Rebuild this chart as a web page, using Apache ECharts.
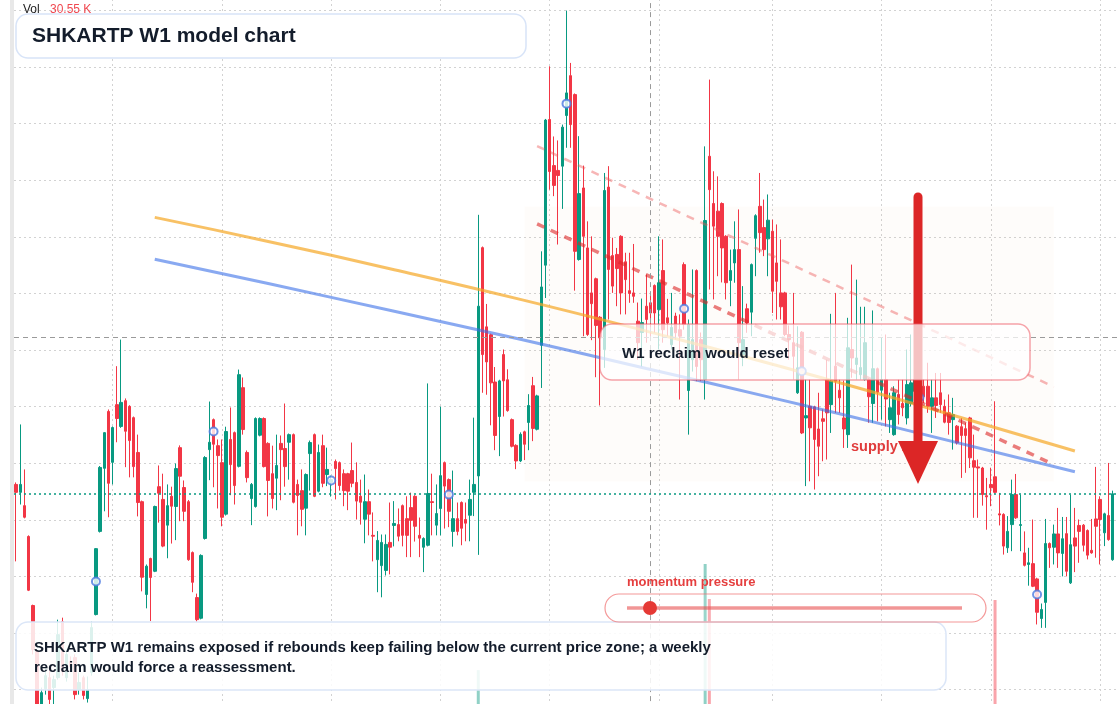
<!DOCTYPE html>
<html lang="en">
<head>
<meta charset="UTF-8">
<title>SHKARTP W1 model chart</title>
<script src="https://cdn.jsdelivr.net/npm/echarts@6/dist/echarts.min.js"></script>
<style>
  html, body { margin: 0; padding: 0; background: #fff; }
  #chart { width: 1120px; height: 704px; }
</style>
</head>
<body>
<div id="chart"></div>
<script>
// weekly candles: [open, close, low, high]
const candles = [
  [29.25,28.97,26.53,29.32],[28.97,29.25,28.54,31.37],[28.50,28.09,28.05,29.78],[27.41,25.51,25.48,27.45],[24.97,23.41,23.24,25.00],
  [23.34,21.12,20.76,23.41],[20.94,21.89,20.59,22.07],[22.03,22.49,21.82,22.78],[22.42,21.65,21.47,22.71],[22.07,22.35,21.47,22.49],
  [22.42,23.94,22.35,24.47],[24.40,22.63,22.49,24.54],[22.42,23.24,22.28,23.41],[23.00,22.82,22.63,23.17],[23.13,21.82,21.65,23.24],
  [22.00,22.25,21.82,22.60],[22.42,21.79,21.65,22.49],[21.68,22.00,21.54,22.46],[22.60,24.19,22.49,24.40],[24.65,26.98,24.62,27.00],
  [27.59,29.85,27.55,29.90],[29.82,31.08,28.30,31.10],[31.83,29.29,28.09,31.90],[30.03,31.26,29.25,31.30],[32.07,31.58,30.74,33.43],
  [31.30,32.15,31.25,34.37],[32.21,31.13,29.86,32.29],[32.01,30.80,29.50,32.05],[31.61,29.88,29.50,31.65],[30.38,28.61,28.12,31.01],
  [28.64,25.97,25.47,28.68],[25.36,26.36,24.87,26.42],[26.63,25.96,24.42,26.66],[26.18,28.47,26.15,28.50],[29.17,28.94,27.90,29.92],
  [28.72,27.07,27.03,29.63],[27.81,28.50,26.64,29.25],[28.83,28.48,27.16,29.17],[28.47,29.81,27.28,29.99],[30.55,29.54,27.95,30.63],
  [29.14,28.30,27.95,29.39],[28.64,26.59,26.55,28.70],[26.84,25.79,25.44,26.88],[25.25,24.47,24.40,25.39],[24.52,26.74,24.48,26.78],
  [27.34,30.20,27.30,30.25],[30.48,30.74,29.40,32.18],[31.54,30.67,29.15,31.58],[30.62,30.27,28.40,30.84],[30.02,28.09,27.77,30.84],
  [28.20,31.12,28.15,31.29],[30.84,29.95,28.87,31.97],[31.08,29.21,28.54,31.12],[29.89,33.13,29.85,33.31],[32.67,31.19,31.01,33.03],
  [30.38,29.49,29.32,30.45],[28.75,29.25,27.81,29.30],[28.47,31.58,28.43,31.62],[30.99,31.58,30.95,31.62],[31.58,29.88,29.85,31.62],
  [30.70,29.39,28.12,30.74],[29.63,28.75,28.40,30.62],[29.47,29.92,28.34,31.01],[30.70,30.48,28.69,30.98],[30.52,29.88,29.17,32.11],
  [30.74,31.01,29.42,31.05],[31.01,28.62,28.58,31.05],[29.25,28.86,27.45,29.42],[29.03,28.37,27.77,29.78],[28.41,29.60,27.45,29.64],
  [30.34,30.73,29.03,30.80],[31.01,28.83,28.80,31.05],[29.01,30.38,28.97,30.66],[30.62,29.29,29.15,31.01],[29.60,29.78,29.19,30.55],
  [29.32,29.42,28.82,29.56],[30.06,29.81,28.72,30.13],[30.02,29.21,29.03,30.06],[29.63,29.03,28.48,29.78],[29.63,29.01,28.34,29.66],
  [29.74,29.29,29.15,30.73],[29.32,28.66,28.01,30.03],[28.83,28.62,27.83,29.42],[28.02,28.64,27.17,29.60],[28.64,28.20,27.45,29.07],
  [27.45,27.42,26.53,28.26],[26.59,27.27,25.44,27.60],[26.38,27.20,25.26,27.48],[26.21,27.13,26.03,27.48],[27.20,27.03,26.07,28.61],
  [27.80,27.87,27.06,28.66],[27.83,27.42,27.24,28.40],[28.50,27.45,27.06,28.54],[28.04,27.45,26.68,28.83],[28.43,27.98,26.68,28.96],
  [28.83,27.77,27.23,28.87],[27.45,27.35,26.68,28.08],[27.03,27.34,26.15,27.38],[27.10,28.93,27.06,32.82],[28.64,28.61,27.45,29.63],
  [27.81,28.22,27.45,29.25],[28.40,29.56,27.45,32.00],[30.02,29.19,27.69,30.06],[29.42,28.30,27.74,29.46],[27.59,28.04,27.05,29.74],
  [28.04,27.59,27.45,28.61],[28.61,27.70,27.10,28.65],[28.01,27.88,27.24,28.61],[28.16,28.72,27.24,29.42],[28.97,29.25,28.13,31.61],
  [29.55,35.55,26.76,38.78],[37.62,33.84,32.49,37.66],[34.82,33.58,32.42,35.63],[34.54,32.84,31.34,34.58],[32.87,30.98,30.46,33.40],
  [31.65,32.91,30.25,32.95],[33.84,32.91,31.65,34.02],[32.95,31.86,31.82,33.32],[31.54,30.60,30.56,31.58],[30.63,30.08,29.79,30.67],
  [30.08,31.02,30.04,31.09],[31.11,30.67,30.11,31.15],[31.44,32.04,30.46,32.44],[32.74,31.23,30.78,33.05],[31.20,32.38,31.16,32.42],
  [34.17,36.23,32.66,37.49],[37.00,42.13,35.84,42.17],[42.15,40.31,39.67,44.03],[40.52,39.82,39.44,41.55],[40.35,40.17,37.73,41.41],
  [40.50,41.88,38.99,41.97],[42.29,43.09,41.15,46.00],[43.70,41.97,41.15,44.15],[43.03,37.49,36.10,43.07],[37.20,39.53,37.16,41.56],
  [39.73,38.02,34.49,40.52],[37.61,34.55,34.50,38.55],[36.02,35.64,34.35,38.02],[36.52,34.87,33.04,36.56],[35.16,34.43,32.04,35.20],
  [34.02,39.64,33.37,40.26],[39.76,36.85,35.08,40.50],[37.34,36.26,36.02,37.97],[37.38,36.88,35.55,37.61],[38.02,36.02,35.26,38.06],
  [37.12,36.49,35.26,37.44],[36.10,36.00,35.67,37.44],[36.02,35.90,35.67,37.75],[35.02,34.26,33.66,35.68],[34.62,34.97,33.42,35.82],
  [35.55,35.08,34.26,36.67],[35.67,35.31,34.37,35.96],[36.28,35.31,34.61,36.32],[35.43,36.38,34.02,38.02],[36.81,34.72,34.26,37.91],
  [35.14,34.96,34.49,35.81],[34.19,34.80,34.02,36.02],[35.20,34.61,34.37,35.32],[34.72,34.49,32.25,35.26],[37.02,34.90,34.72,37.10],
  [32.57,34.90,31.01,35.08],[33.66,34.37,33.24,36.85],[36.81,33.42,32.90,36.85],[34.37,33.66,32.90,34.62],[32.96,38.58,32.25,41.20],
  [40.85,39.67,36.14,43.56],[39.18,38.38,35.79,40.32],[38.91,38.02,36.61,40.14],[39.18,37.61,36.39,39.22],[38.02,36.38,35.79,38.06],
  [36.46,36.81,35.55,37.55],[37.08,37.55,36.38,38.55],[37.55,34.26,32.96,38.97],[33.78,34.37,33.43,36.26],[35.46,34.96,34.61,35.64],
  [35.34,37.02,34.49,37.06],[37.95,38.75,36.61,38.80],[39.08,38.15,37.44,40.26],[38.33,37.55,37.32,39.32],[37.93,38.59,36.61,39.50],
  [38.20,36.08,35.31,38.61],[37.08,36.43,35.08,38.44],[36.02,35.53,35.08,37.91],[36.02,34.55,34.49,36.06],[34.55,34.37,33.66,34.87],
  [34.26,33.78,32.96,36.02],[32.49,33.37,32.45,34.84],[34.63,31.07,31.03,34.67],[31.60,31.68,29.19,32.96],[32.01,31.25,29.36,32.96],
  [31.99,30.84,29.07,32.03],[31.21,30.60,29.54,32.49],[31.57,31.48,30.07,31.90],[32.96,31.78,30.13,33.66],[32.07,32.90,31.07,35.28],
  [33.43,32.90,31.78,36.02],[32.58,32.31,31.78,32.96],[31.60,31.21,30.54,32.92],[31.01,34.08,30.54,35.14],[34.02,33.72,33.02,37.02],
  [33.49,33.72,32.96,36.49],[33.13,33.38,32.96,35.53],[32.96,34.26,32.92,35.53],[32.96,32.35,31.43,33.00],[32.11,33.34,31.43,35.40],
  [33.34,32.51,31.48,33.38],[32.58,32.96,31.54,34.43],[32.96,32.27,31.30,34.55],[31.54,31.96,31.07,32.49],[31.01,32.49,30.97,32.72],
  [32.43,31.72,31.37,32.96],[32.11,31.96,31.66,32.96],[31.60,32.78,31.37,34.02],[32.11,32.84,32.01,34.55],[32.54,32.96,32.01,33.78],
  [32.60,31.90,31.60,33.00],[32.72,32.35,32.13,32.96],[32.72,32.01,31.78,33.55],[32.01,32.31,31.07,32.96],[32.31,32.04,31.60,33.19],
  [32.49,32.07,31.78,33.19],[32.01,31.45,31.41,32.25],[31.78,31.44,31.01,32.43],[31.54,31.72,30.48,32.31],[31.31,30.72,30.66,31.35],
  [31.29,30.98,29.48,31.60],[31.22,30.98,29.66,31.43],[31.60,30.19,29.83,31.64],[30.09,29.86,28.07,31.01],[29.87,29.83,28.07,30.13],
  [29.83,28.89,28.50,29.87],[28.85,28.81,27.65,29.48],[29.25,29.13,28.48,29.84],[29.52,28.97,28.93,32.19],[28.21,28.17,27.80,28.95],
  [28.19,27.07,26.77,28.23],[27.01,27.59,26.83,28.13],[27.83,28.89,26.89,29.42],[28.89,28.07,28.03,29.62],[27.80,27.83,26.89,28.89],
  [26.83,26.39,26.35,27.59],[26.42,26.48,25.67,27.01],[26.45,25.65,25.62,28.01],[25.91,24.73,24.30,25.95],[24.51,24.83,24.18,25.04],
  [25.08,27.16,24.18,28.03],[27.16,27.01,26.30,27.20],[27.03,27.50,26.42,27.83],[27.50,26.83,26.30,28.42],[26.81,27.33,26.00,28.10],
  [27.51,26.18,26.00,28.10],[25.77,27.12,25.73,28.89],[27.36,27.07,26.15,28.42],[27.80,27.59,26.48,28.01],[27.81,27.10,26.88,27.85],
  [27.62,26.75,26.60,27.66],[26.92,26.83,26.80,28.03],[28.03,27.77,26.66,29.87],[28.72,28.01,26.42,28.83],[27.54,28.21,27.07,28.25],
  [28.15,27.30,27.26,30.01],[26.59,28.92,26.55,29.03]
];

// weekly volume, thousands
const volumes = [
  22,18,15,31,35,40,28,14,19,12,24,26,17,11,27,13,16,12,29,38,
  36,25,33,21,24,30,19,22,26,29,41,20,23,34,18,25,17,15,22,21,
  18,27,24,19,30,37,16,21,14,25,31,22,20,35,23,17,13,33,15,24,
  20,16,14,12,19,11,26,15,17,18,13,22,16,18,10,12,14,15,13,12,
  16,14,11,19,15,13,17,16,15,12,10,11,14,12,13,15,9,12,28,11,
  13,21,16,18,15,12,14,10,16,19,63.3,44,29,31,27,22,20,18,19,16,
  17,13,19,24,18,34,47,42,25,21,23,38,33,45,29,31,35,20,26,22,
  43,36,24,18,26,19,13,15,21,16,18,14,20,23,27,12,14,15,17,29,
  25,22,31,18,98.7,87,34,27,30,32,17,19,36,21,15,28,22,24,16,20,
  30,21,17,24,13,20,19,37,26,22,25,18,12,23,24,21,14,19,33,27,
  18,15,22,17,26,19,14,18,12,21,16,11,20,17,15,19,14,18,13,15,
  16,14,12,11,17,13,12,22,25,14,23,18,15,86.7,16,27,19,24,21,13,
  22,15,29,35,18,41,14,17,22,19,26,33,15,12,18,21,13,24,23,16,25,30.55
];

// slow averages, [week index, price]
const maOrange = [[33,38.69],[60,37.84],[90,36.84],[120,35.79],[150,34.67],[180,33.50],[210,32.26],[252,30.43]];
const maBlue = [[33,37.21],[60,36.35],[90,35.37],[120,34.38],[150,33.35],[180,32.31],[210,31.24],[252,29.70]];

// descending channel
const upperTrend = [[124,41.21],[247,32.70]];
const lowerTrend = [[124,38.46],[247,29.95]];

// pivot markers
const pivotIdx = [19,47,75,103,131,159,187,215,243];
const pivotVal = [25.82,31.12,29.39,28.89,42.71,35.46,33.25,32.32,25.36];

// supply zone box
const zoneIdx = [121,247];
const zonePrice = [39.07,29.35];

const crossIndex = 151;
const crossPrice = 34.44;
const lastClose = candles[candles.length - 1][1];

// x split lines (half-year marks)
const splitIdx = [23,49,75,101,127,153,180,206,232,258];

const priceMin = 20, priceMax = 48, priceStep = 2;

// category labels: weekly dates (one spare week at the right edge)
const categories = [];
const t0 = Date.UTC(2021, 0, 4);
for (let i = 0; i < candles.length + 1; i++) {
  categories.push(new Date(t0 + i * 7 * 86400000).toISOString().slice(0, 10));
}

const GREEN = '#089981';
const RED = '#f23645';
const FONT = '"Liberation Sans", Arial, Helvetica, sans-serif';
const gridLine = { color: '#d2d2d2', type: [2, 3], width: 1 };

var myChart = echarts.init(document.getElementById('chart'));

var option = {
  animation: false,
  backgroundColor: '#ffffff',
  grid: [
    { left: 14, right: 1, top: -46, height: 792.1, outerBoundsMode: 'none' },
    { left: 14, right: 1, top: 560, height: 300, outerBoundsMode: 'none' }
  ],
  xAxis: [
    {
      type: 'category', data: categories, gridIndex: 0, boundaryGap: true,
      axisLine: { show: false }, axisTick: { show: false }, axisLabel: { show: false },
      splitLine: {
        show: true,
        alignWithLabel: true,
        interval: function (i) { return splitIdx.indexOf(i) >= 0; },
        lineStyle: gridLine
      }
    },
    {
      type: 'category', data: categories, gridIndex: 1, boundaryGap: true,
      axisLine: { show: false }, axisTick: { show: false }, axisLabel: { show: false },
      splitLine: { show: false }
    }
  ],
  yAxis: [
    {
      type: 'value', gridIndex: 0, min: priceMin, max: priceMax, interval: priceStep,
      axisLine: { show: false }, axisTick: { show: false }, axisLabel: { show: false },
      splitLine: { show: true, lineStyle: gridLine }
    },
    {
      type: 'value', gridIndex: 1, min: 0, max: 100,
      axisLine: { show: false }, axisTick: { show: false }, axisLabel: { show: false },
      splitLine: { show: false }
    }
  ],
  series: [
    {
      type: 'bar', xAxisIndex: 1, yAxisIndex: 1, silent: true, barWidth: 3,
      data: volumes.map(function (v, i) {
        var up = candles[i][1] >= candles[i][0];
        return { value: v, itemStyle: { color: up ? 'rgba(8,153,129,0.45)' : 'rgba(242,54,69,0.45)' } };
      }),
      z: 1
    },
    {
      type: 'candlestick', name: 'SHKARTP', data: candles, barWidth: 3, silent: true,
      itemStyle: { color: GREEN, color0: RED, borderColor: GREEN, borderColor0: RED, borderWidth: 1 },
      markArea: {
        silent: true,
        itemStyle: { color: 'rgba(240,170,110,0.035)' },
        data: [[
          { xAxis: categories[zoneIdx[0]], yAxis: zonePrice[0] },
          { xAxis: categories[zoneIdx[1]], yAxis: zonePrice[1] }
        ]]
      },
      markLine: {
        silent: true, symbol: ['none', 'none'], label: { show: false },
        data: [
          { xAxis: categories[crossIndex], lineStyle: { color: '#9a9a9a', type: [5, 4], width: 1 } },
          { yAxis: crossPrice, lineStyle: { color: '#9a9a9a', type: [5, 4], width: 1 } },
          { yAxis: lastClose, lineStyle: { color: GREEN, type: [2, 3], width: 1.5 } }
        ]
      },
      z: 2
    },
    {
      type: 'line', data: maOrange, smooth: true, showSymbol: false, silent: true,
      lineStyle: { color: '#f5a623', width: 3, opacity: 0.7 }, z: 3
    },
    {
      type: 'line', data: maBlue, smooth: true, showSymbol: false, silent: true,
      lineStyle: { color: '#3b6fe8', width: 3, opacity: 0.6 }, z: 3
    },
    {
      type: 'line', data: upperTrend, showSymbol: false, silent: true,
      lineStyle: { color: 'rgba(235,80,80,0.42)', width: 2.5, type: [8, 7] }, z: 4
    },
    {
      type: 'line', data: lowerTrend, showSymbol: false, silent: true,
      lineStyle: { color: 'rgba(220,38,38,0.6)', width: 3.5, type: [8, 7] }, z: 4
    },
    {
      type: 'scatter', silent: true, symbol: 'emptyCircle', symbolSize: 8,
      data: pivotIdx.map(function (i, k) { return [i, pivotVal[k]]; }),
      itemStyle: { color: '#4a78e0', borderWidth: 1.5 }, z: 5
    }
  ],
  graphic: [
    { type: 'rect', silent: true, z: 1, shape: { x: 10, y: 0, width: 4, height: 704 }, style: { fill: '#e8e8e8' } },
    { type: 'text', silent: true, z: 50, style: { text: 'Vol', x: 23, y: 9.5, font: '12px ' + FONT, fill: '#222', verticalAlign: 'middle', textVerticalAlign: 'middle' } },
    { type: 'text', silent: true, z: 50, style: { text: '30.55 K', x: 50, y: 9.5, font: '12px ' + FONT, fill: '#f0474f', verticalAlign: 'middle', textVerticalAlign: 'middle' } },

    { type: 'rect', silent: true, z: 40, shape: { x: 16, y: 14, width: 510, height: 44, r: 12 }, style: { fill: '#ffffff', stroke: '#d8e4f8', lineWidth: 1.5 } },
    { type: 'text', silent: true, z: 41, style: { text: 'SHKARTP W1 model chart', x: 32, y: 36, font: 'bold 21px ' + FONT, fill: '#131c2b', verticalAlign: 'middle', textVerticalAlign: 'middle' } },

    { type: 'text', silent: true, z: 20, style: { text: 'supply zone', x: 851, y: 447, font: 'bold 14.5px ' + FONT, fill: '#e03b3b', verticalAlign: 'middle', textVerticalAlign: 'middle' } },
    { type: 'line', silent: true, z: 30, shape: { x1: 918, y1: 197, x2: 918, y2: 446 }, style: { stroke: '#dc2626', lineWidth: 9, lineCap: 'round' } },
    { type: 'polygon', silent: true, z: 30, shape: { points: [[898, 441], [938, 441], [918, 484]] }, style: { fill: '#dc2626' } },

    { type: 'rect', silent: true, z: 40, shape: { x: 600, y: 324, width: 430, height: 56, r: 12 }, style: { fill: 'rgba(255,255,255,0.72)', stroke: 'rgba(238,90,100,0.55)', lineWidth: 1.5 } },
    { type: 'text', silent: true, z: 41, style: { text: 'W1 reclaim would reset', x: 622, y: 354, font: 'bold 15px ' + FONT, fill: '#131c2b', verticalAlign: 'middle', textVerticalAlign: 'middle' } },

    { type: 'text', silent: true, z: 45, style: { text: 'momentum pressure', x: 627, y: 582, font: 'bold 13px ' + FONT, fill: '#e53e3e', verticalAlign: 'middle', textVerticalAlign: 'middle' } },
    { type: 'rect', silent: true, z: 44, shape: { x: 605, y: 594, width: 381, height: 28, r: 14 }, style: { fill: 'rgba(255,255,255,0.1)', stroke: 'rgba(240,110,110,0.7)', lineWidth: 1.2 } },
    { type: 'line', silent: true, z: 45, shape: { x1: 627, y1: 608, x2: 962, y2: 608 }, style: { stroke: 'rgba(232,80,80,0.6)', lineWidth: 3.5 } },
    { type: 'circle', silent: true, z: 46, shape: { cx: 650, cy: 608, r: 7 }, style: { fill: '#e53935' } },

    { type: 'rect', silent: true, z: 40, shape: { x: 16, y: 622, width: 930, height: 68, r: 12 }, style: { fill: 'rgba(255,255,255,0.86)', stroke: '#dbe6f8', lineWidth: 1.5 } },
    { type: 'text', silent: true, z: 41, style: { text: 'SHKARTP W1 remains exposed if rebounds keep failing below the current price zone; a weekly', x: 34, y: 648, font: 'bold 15px ' + FONT, fill: '#131c2b', verticalAlign: 'middle', textVerticalAlign: 'middle' } },
    { type: 'text', silent: true, z: 41, style: { text: 'reclaim would force a reassessment.', x: 34, y: 668, font: 'bold 15px ' + FONT, fill: '#131c2b', verticalAlign: 'middle', textVerticalAlign: 'middle' } }
  ]
};

myChart.setOption(option);
</script>
</body>
</html>
